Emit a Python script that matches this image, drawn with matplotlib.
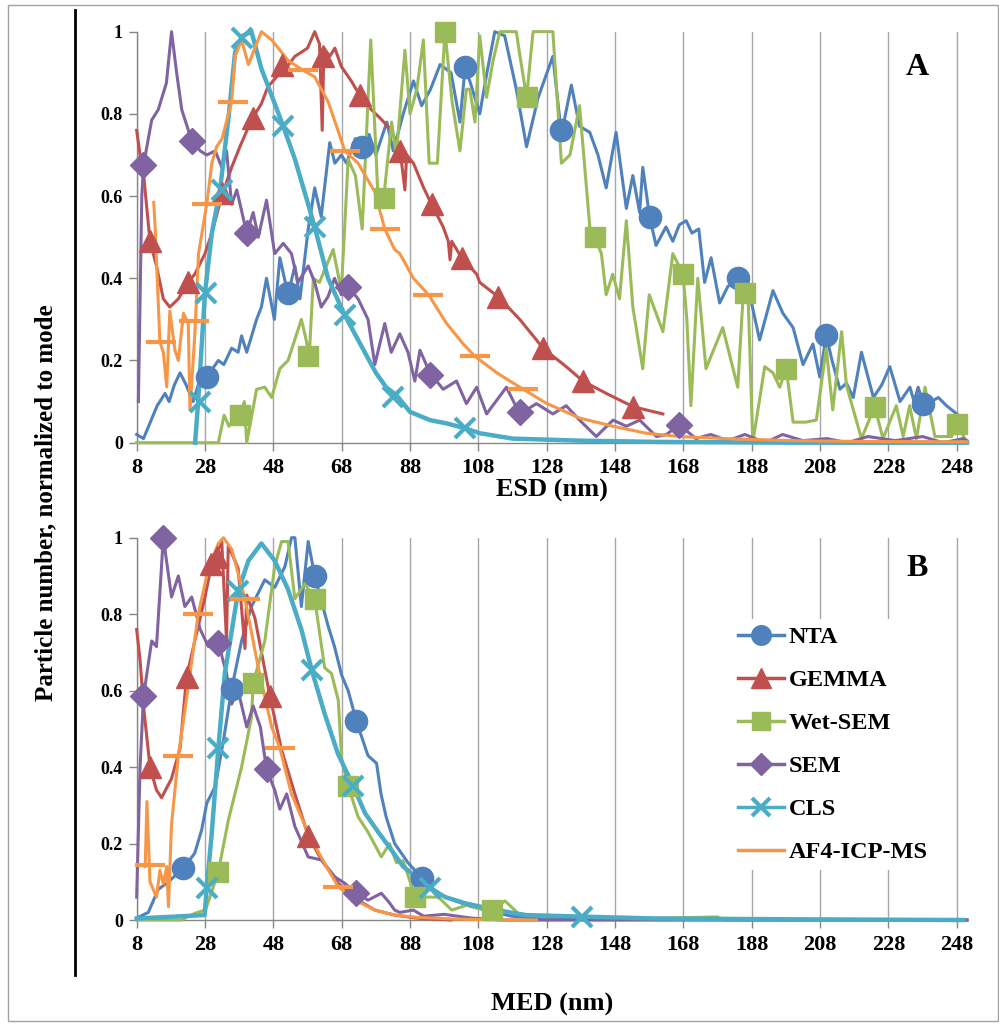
import matplotlib
matplotlib.use('Agg')
import matplotlib.pyplot as plt
from matplotlib.lines import Line2D
from matplotlib.patches import Rectangle

plt.rcParams['font.family'] = ['Liberation Serif', 'DejaVu Serif']
plt.rcParams['font.weight'] = 'bold'

# colours (Excel 2007 palette)
c_nta = '#4F81BD'
c_gemma = '#C0504D'
c_wet = '#9BBB59'
c_sem = '#8064A2'
c_cls = '#4BACC6'
c_af4 = '#F79646'

# ---------------- panel A (ESD) ----------------
nta_a_x = [8, 10, 12, 14, 16.3, 17.5, 19, 20.7, 22.5, 24.5, 26, 28.5, 31.9, 33.5, 35.8, 37.7, 38.7, 40.2,
           43.1, 44.5, 46, 48.3, 49.9, 52.3, 54.3, 55.8, 58.2, 60.1, 62, 64.5, 66, 67.9, 69.4, 72, 73.8, 76,
           78, 81.2, 83.1, 86, 89, 91.4, 94, 96.8, 100, 102.6, 104.1, 105.5, 108.4, 110.5, 112.8, 115.7,
           119.1, 122.1, 125.5, 129.8, 132.3, 135.2, 137.6, 140.6, 143, 145.4, 148.3, 151.3, 153.2, 155.2,
           156.1, 158.1, 160, 162.9, 164.9, 166.8, 168.8, 170.5, 172.5, 174.2, 176.1, 178.6, 181, 184,
           187.4, 190.3, 194.2, 197.1, 200.1, 203, 205.9, 207.9, 209.8, 211.5, 213.8, 215.7, 217.7, 220.1,
           223.6, 226, 228.4, 231.4, 234.3, 235.5, 236.7, 238.2, 240.5, 242.6, 245, 248, 250.5]
nta_a_y = [.02, .01, .05, .09, .12, .10, .14, .17, .14, .10, .14, .16, .20, .19, .23, .22, .26, .22,
           .30, .33, .40, .30, .45, .36, .43, .35, .52, .62, .55, .73, .68, .70, .68, .74, .72, .75,
           .70, .78, .71, .80, .88, .82, .86, .92, .90, .78, .91, .88, .80, .90, 1.0, .99,
           .86, .72, .84, .94, .75, .87, .77, .755, .70, .62, .755, .57, .65, .56,
           .67, .55, .48, .525, .49, .53, .54, .51, .52, .39, .45, .34, .38, .40,
           .36, .25, .37, .315, .28, .19, .24, .16, .26, .20, .13, .145, .11, .22,
           .11, .14, .185, .10, .135, .10, .135, .095, .10, .11, .09, .07, .05]
nta_a_mx = [28.5, 52.3, 73.8, 104.1, 132.3, 158.1, 184, 209.8, 238.2]
nta_a_my = [.16, .365, .72, .915, .76, .55, .40, .262, .095]

gemma_a_x = [8, 9, 10, 11.9, 13.8, 15.8, 17.7, 20.2, 23.1, 25, 28, 30, 32.9, 35.8, 38.2, 41.6, 44.5,
             46.4, 50, 52, 54.3, 56.2, 58, 60.1, 61.5, 62.3, 62.8, 64.5, 66, 67.9, 70.8, 73.3, 76.7,
             79.2, 82.6, 84, 85.1, 86.5, 87, 89, 92, 94.3, 97.7, 99.2, 99.7, 100.2, 103.1, 107.5,
             108.4, 113.8, 120.1, 125, 126.9, 133.7, 138.6, 145.4, 153.2, 157, 162]
gemma_a_y = [.76, .70, .655, .49, .43, .35, .33, .35, .39, .41, .46, .51, .60, .67, .72, .785, .825,
             .866, .90, .915, .94, .95, .96, 1.0, .97, .76, .96, .94, .96, .915, .88, .845, .81,
             .79, .76, .73, .71, .615, .70, .68, .62, .58, .525, .49, .445, .49, .45, .41,
             .39, .355, .30, .25, .23, .185, .15, .12, .088, .08, .07]
gemma_a_mx = [11.9, 23.1, 32.9, 42, 50.4, 62.6, 73.3, 85.1, 94.3, 103.1, 113.8, 126.9, 138.6, 153.2]
gemma_a_my = [.49, .39, .607, .79, .92, .94, .845, .71, .58, .45, .355, .23, .15, .088]

wet_a_x = [8, 31.9, 33.6, 35, 36.5, 38.2, 39.5, 40.2, 43.1, 45.5, 47.5, 49.9, 52.3, 56.2, 57.6, 58.5,
           59.7, 61.5, 63, 65.5, 67.9, 69.9, 72, 74, 76.5, 78.5, 80.3, 82.6, 84, 86.5, 88, 90, 91.9,
           93.6, 96, 98.2, 100.3, 102.6, 104.5, 105.5, 107, 108.4, 110.4, 112.3, 114.3, 117.2, 119.1,
           120, 122.1, 124, 129.8, 132.3, 134.8, 137.6, 140.6, 142, 144, 145.4, 147.3, 149.3, 151.3,
           153.2, 156.1, 158, 162, 164.9, 167.9, 169, 170.2, 172.2, 174.6, 179.5, 183.9, 185.5, 186.8,
           188.3, 191.8, 194.2, 196.2, 198.1, 200.1, 203.8, 206.9, 209.8, 211.7, 214.3, 215.7, 220.1,
           224, 226.4, 230.3, 232.3, 234.2, 236.2, 238.7, 241.6, 246.5, 248.2, 250.9]
wet_a_y = [0, 0, .067, .04, .06, .067, .10, 0, .13, .135, .11, .18, .20, .30, .25, .21,
           .40, .39, .42, .47, .37, .69, .65, .52, .98, .62, .595, .78, .70, .955, .80, .86, .98,
           .68, .68, 1.0, .83, .71, .86, .86, .78, .99, .84, .93, 1.0, 1.0, 1.0,
           .95, .84, 1.0, 1.0, .68, .70, .82, .525, .50, .46, .36, .41, .35, .54,
           .33, .18, .36, .27, .46, .41, .30, .09, .40, .18, .28, .135, .36, .39,
           0, .185, .17, .135, .18, .05, .05, .055, .23, .08, .27, .14, .01,
           .088, .01, .09, .015, .09, .01, .135, .015, .015, .045, 0]
wet_a_mx = [38.2, 58.2, 80.3, 98.2, 122.1, 142, 167.9, 185.9, 198.1, 224, 248.2]
wet_a_my = [.067, .21, .595, 1.0, .84, .50, .41, .365, .18, .088, .045]

sem_a_x = [8.5, 9.5, 10, 12.4, 14.3, 16.7, 18.2, 19.7, 21.2, 24.1, 26.6, 28.5, 31, 32.9, 34.3, 35.8,
           37.3, 40.2, 42.1, 43.6, 46, 48.4, 50.9, 53.3, 55.2, 58.2, 60.1, 62, 64, 65.9, 67.9, 69.9,
           72.8, 75.7, 77.7, 80.6, 82.5, 85, 87.4, 89.4, 90.9, 93.8, 97.7, 101.6, 104.5, 107.5, 110.4,
           116.2, 120.1, 125, 129.8, 133.7, 137.6, 142.5, 147.4, 151.3, 155.2, 160.1, 163, 166.8,
           171.7, 176, 181, 186, 192, 197, 203, 210, 216, 222, 230, 238, 244, 250, 251]
sem_a_y = [.10, .60, .675, .785, .81, .875, 1.0, .90, .81, .735, .71, .70, .71, .67, .71, .58,
           .615, .51, .56, .50, .59, .46, .485, .46, .39, .43, .39, .33, .355, .40, .36, .38,
           .35, .30, .19, .29, .22, .265, .22, .15, .225, .17, .13, .15, .095, .135, .07,
           .135, .07, .095, .07, .09, .055, .015, .055, .04, .055, .015, .02, .043,
           .01, .02, .005, .02, 0, .02, .005, .01, 0, .015, .005, .015, 0, .01, .005]
sem_a_mx = [10, 24.1, 40.2, 69.9, 93.8, 120.1, 166.8]
sem_a_my = [.675, .735, .51, .38, .165, .075, .043]

cls_a_x = [25.1, 26, 28, 30, 32.4, 34.8, 36.8, 39, 41.6, 44.5, 48.4, 50.9, 54.3, 58.2, 60.1, 64, 68.9,
           72.8, 78, 81, 84.1, 88, 93.8, 98.7, 104.1, 108.4, 118, 137.6, 160, 200, 251]
cls_a_y = [0, .10, .365, .51, .615, .785, .95, .99, 1.0, .91, .825, .77, .69, .58, .525, .40, .31,
           .25, .17, .135, .115, .075, .055, .047, .035, .023, .01, .005, .002, 0, 0]
cls_a_mx = [26.5, 28.3, 32.9, 38.7, 50.9, 60.1, 68.9, 83, 104.1]
cls_a_my = [.10, .365, .615, .985, .77, .525, .31, .11, .035]

af4_a_x = [13, 13.4, 14.8, 15.8, 16.8, 17.7, 19.2, 20.2, 21.7, 23.1, 23.6, 25, 26.1, 28.5, 30, 31.4,
           33, 35.8, 36.8, 38.7, 40.7, 42.6, 44.5, 47.5, 50.4, 52.3, 56.7, 60.1, 64, 66.9, 68.9, 72.8,
           77.7, 80.6, 83.5, 85, 89, 93.4, 98.7, 103.6, 107, 113.4, 121.1, 127.9, 137.6, 147.4,
           157.1, 166.8, 180, 200, 220, 251]
af4_a_y = [.585, .525, .245, .22, .136, .32, .225, .20, .315, .29, .08, .26, .46, .58, .68, .72,
           .74, .83, .94, .98, .92, .96, 1.0, .98, .95, .93, .906, .89, .83, .76, .71, .68,
           .61, .52, .47, .46, .40, .36, .29, .24, .21, .17, .13, .096, .06, .04,
           .023, .015, .01, .005, .003, .002]
af4_a_mx = [15, 24.8, 28.7, 36.3, 56.7, 69.1, 80.8, 93.4, 107, 121.1]
af4_a_my = [.245, .295, .58, .83, .906, .71, .52, .36, .21, .13]

# ---------------- panel B (MED) ----------------
nta_b_x = [8, 11.4, 14.3, 17.3, 21.6, 25, 27, 28.5, 31, 33.4, 35.8, 38.7, 41.6, 45.5, 48.4, 51.4, 53.3,
           54.3, 56.2, 58.2, 60.1, 64, 65.9, 68, 69.9, 72.3, 75.7, 78.2, 79.5, 81, 83.5, 87.4, 91.4, 95,
           98.2, 106, 117.7, 130, 251]
nta_b_y = [.005, .02, .08, .10, .135, .175, .235, .305, .35, .47, .605, .73, .82, .89, .87, .925, 1.0,
           1.0, .82, .99, .90, .77, .715, .64, .60, .52, .43, .41, .33, .27, .20, .15, .11, .08,
           .06, .035, .01, .003, 0]
nta_b_mx = [21.6, 35.8, 60.1, 72.3, 91.4]
nta_b_my = [.135, .605, .90, .52, .11]

gemma_b_x = [8, 9, 10, 11.9, 13.8, 15.3, 18.2, 20.7, 22.6, 25, 28, 29.9, 32.9, 34.3, 34.8, 37.7, 39.7,
             40.2, 42.6, 47, 50.4, 54.3, 58.2, 62.1, 67, 72.8, 77.7, 83.5, 90, 100]
gemma_b_y = [.76, .68, .56, .40, .34, .32, .37, .45, .635, .73, .845, .93, .99, .73, .98, .92, .71,
             .85, .79, .585, .445, .33, .22, .157, .096, .052, .026, .013, .005, 0]
gemma_b_mx = [11.9, 22.6, 29.9, 31.5, 47, 58.2]
gemma_b_my = [.40, .635, .93, .95, .585, .22]

wet_b_x = [8, 21, 24.9, 28.2, 31.9, 34.8, 38.7, 41.6, 42.1, 45.5, 48.4, 50.4, 52.3, 54.3, 57.2, 60.1,
           63, 65, 67, 68, 69.9, 72.8, 75.7, 79.6, 82, 84, 86, 89.5, 96.3, 100.2, 105, 108, 111.9,
           115.8, 119.7, 127.5, 133, 150, 178, 180, 251]
wet_b_y = [0, 0, .017, .027, .126, .26, .40, .53, .62, .73, .925, .99, .99, .84, .88, .84,
           .66, .645, .575, .42, .35, .27, .23, .165, .20, .15, .155, .06, .06, .026, .04, .03, .026,
           .05, .017, .008, .01, .003, .008, 0, 0]
wet_b_mx = [31.9, 42.1, 60.1, 69.9, 89.5, 111.9]
wet_b_my = [.126, .62, .84, .35, .06, .026]

sem_b_x = [8, 9, 10, 12.4, 13.8, 15.8, 18.2, 20.2, 22.1, 24.1, 26.6, 29, 31.9, 34.3, 35.8, 37.7, 40.2,
           42.1, 44.2, 46, 48.4, 49.9, 51.9, 54.3, 58.2, 62.1, 66, 68.9, 72.3, 75.7, 79.6, 82, 83.5,
           85, 89, 92, 98, 106, 115, 251]
sem_b_y = [.06, .40, .585, .73, .715, 1.0, .845, .90, .82, .845, .76, .715, .725, .645, .565, .60, .505,
           .56, .505, .395, .34, .29, .33, .245, .165, .157, .113, .096, .07, .052, .07, .045, .026,
           .02, .026, .01, .015, .005, 0, 0]
sem_b_mx = [10, 15.8, 31.9, 46, 72.3]
sem_b_my = [.585, 1.0, .725, .395, .07]

cls_b_x = [8, 27.9, 28.5, 30, 31.9, 33.8, 37.7, 40.7, 44.5, 48.4, 52.3, 56.2, 59.2, 63, 66.9, 71.4,
           74.8, 78.7, 82, 86, 93.9, 98.3, 104.1, 111, 121.7, 138.2, 160, 200, 250]
cls_b_y = [.004, .013, .083, .23, .45, .645, .86, .94, .985, .94, .865, .76, .655, .54, .435, .35,
           .28, .23, .19, .14, .083, .06, .044, .03, .013, .009, .004, .002, 0]
cls_b_mx = [28.5, 31.9, 37.7, 59.2, 71.4, 93.9, 138.2]
cls_b_my = [.083, .45, .86, .655, .35, .083, .009]

af4_b_x = [10.5, 11, 11.9, 13.8, 14.8, 15.8, 16.8, 17.3, 18.2, 20.2, 23.1, 26, 28.9, 31.9, 33.4, 35.8,
           39.7, 43.6, 47.5, 49.9, 53.3, 58.2, 63, 67, 72.8, 77.7, 83.5, 90, 100, 110, 125]
af4_b_y = [.14, .31, .10, .06, .13, .095, .14, .035, .25, .43, .61, .80, .915, .985, 1.0, .97,
           .84, .66, .505, .45, .33, .227, .148, .087, .048, .026, .013, .007, .003, .001, 0]
af4_b_mx = [11.9, 20.2, 26, 39.7, 49.9, 67]
af4_b_my = [.144, .43, .80, .84, .45, .087]

x_ticks = list(range(8, 249, 20))
y_ticks = [0, 0.2, 0.4, 0.6, 0.8, 1]
y_labels = ['0', '0.2', '0.4', '0.6', '0.8', '1']

styles = [
    ('NTA', c_nta, 'o', 16, 2.2),
    ('GEMMA', c_gemma, '^', 16, 2.2),
    ('Wet-SEM', c_wet, 's', 15, 2.2),
    ('SEM', c_sem, 'D', 13, 2.2),
    ('CLS', c_cls, 'x', 15, 3.2),
    ('AF4-ICP-MS', c_af4, '_', 21, 2.2),
]

panel_a = [(nta_a_x, nta_a_y, nta_a_mx, nta_a_my),
           (gemma_a_x, gemma_a_y, gemma_a_mx, gemma_a_my),
           (wet_a_x, wet_a_y, wet_a_mx, wet_a_my),
           (sem_a_x, sem_a_y, sem_a_mx, sem_a_my),
           (cls_a_x, cls_a_y, cls_a_mx, cls_a_my),
           (af4_a_x, af4_a_y, af4_a_mx, af4_a_my)]
panel_b = [(nta_b_x, nta_b_y, nta_b_mx, nta_b_my),
           (gemma_b_x, gemma_b_y, gemma_b_mx, gemma_b_my),
           (wet_b_x, wet_b_y, wet_b_mx, wet_b_my),
           (sem_b_x, sem_b_y, sem_b_mx, sem_b_my),
           (cls_b_x, cls_b_y, cls_b_mx, cls_b_my),
           (af4_b_x, af4_b_y, af4_b_mx, af4_b_my)]

fig = plt.figure(figsize=(9.99, 10.25), dpi=100)
ax_a = fig.add_axes([0.1368, 0.5681, 0.968 - 0.1368, 0.401])
ax_b = fig.add_axes([0.1368, 0.1024, 0.968 - 0.1368, 0.373])


def draw_panel(ax, series, xlabel, labelpad, letter, letter_y):
    for (name, col, mk, ms, lw), (x, y, mx, my) in zip(styles, series):
        ax.plot(x, y, color=col, lw=lw, clip_on=False, zorder=3, solid_joinstyle='round')
        mew = 3 if mk in ('x', '_') else 1
        ax.plot(mx, my, ls='none', marker=mk, ms=ms, color=col, mec=col, mew=mew,
                clip_on=False, zorder=4)
    ax.set_xlim(8, 251)
    ax.set_ylim(0, 1)
    ax.set_xticks(x_ticks)
    ax.set_yticks(y_ticks)
    ax.set_yticklabels(y_labels)
    ax.grid(axis='x', color='#a6a6a6', lw=1, zorder=0)
    for s in ('top', 'right'):
        ax.spines[s].set_visible(False)
    for s in ('left', 'bottom'):
        ax.spines[s].set_color('#868686')
        ax.spines[s].set_linewidth(1)
    ax.tick_params(axis='both', colors='#868686', labelcolor='black',
                   length=6, width=1)
    ax.tick_params(axis='x', pad=5, labelsize=16)
    ax.tick_params(axis='y', pad=4, labelsize=13)
    for lab in ax.get_xticklabels() + ax.get_yticklabels():
        lab.set_fontweight('bold')
    ax.set_xlabel(xlabel, fontsize=19, fontweight='bold', labelpad=labelpad)
    ax.text(0.94, letter_y, letter, transform=ax.transAxes, fontsize=23, fontweight='bold',
            ha='center', va='center')


draw_panel(ax_a, panel_a, 'ESD (nm)', 1, 'A', 0.913)
draw_panel(ax_b, panel_b, 'MED (nm)', 27, 'B', 0.92)

handles = []
for name, col, mk, ms, lw in styles:
    if mk == '_':
        handles.append(Line2D([], [], color=col, lw=2.5, label=name))
    else:
        handles.append(Line2D([], [], color=col, lw=2.5, marker=mk, ms=ms * 0.88, mec=col,
                              mew=3 if mk == 'x' else 1, label=name))
leg = ax_b.legend(handles=handles, loc='upper left', bbox_to_anchor=(0.715, 0.787),
                  frameon=True, facecolor='white', edgecolor='none', framealpha=1,
                  fontsize=17.5, handlelength=1.9, handletextpad=0.2, labelspacing=0.86,
                  borderpad=0.3, borderaxespad=0)
leg.set_zorder(5)
for t in leg.get_texts():
    t.set_fontweight('bold')

fig.text(0.046, 0.51, 'Particle number, normalized to mode', rotation=90, fontsize=18,
         fontweight='bold', ha='center', va='center')
fig.add_artist(Line2D([0.075, 0.075], [0.049, 0.99], transform=fig.transFigure,
                      color='black', lw=2))
fig.add_artist(Rectangle((0.008, 0.004), 0.991, 0.991, transform=fig.transFigure,
                         fill=False, edgecolor='#a0a0a0', lw=1))

fig.savefig('out.png', dpi=100)
